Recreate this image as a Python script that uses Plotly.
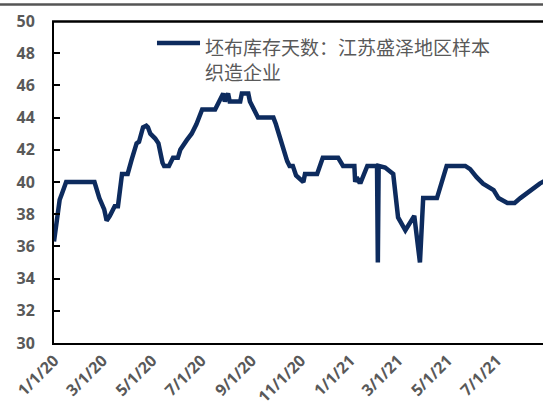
import plotly.graph_objects as go

dates = [
    "2020-01-01", "2020-01-05", "2020-01-08", "2020-01-11", "2020-01-16",
    "2020-02-20", "2020-02-26", "2020-03-03", "2020-03-06", "2020-03-10",
    "2020-03-16", "2020-03-20", "2020-03-25", "2020-04-01", "2020-04-03",
    "2020-04-06", "2020-04-12", "2020-04-15", "2020-04-20", "2020-04-24",
    "2020-04-26", "2020-04-29", "2020-05-05", "2020-05-09", "2020-05-14",
    "2020-05-16", "2020-05-22", "2020-05-27", "2020-06-02", "2020-06-05",
    "2020-06-13", "2020-06-19", "2020-06-25", "2020-07-02", "2020-07-18",
    "2020-07-22", "2020-07-28", "2020-07-30", "2020-08-03", "2020-08-05",
    "2020-08-18", "2020-08-20", "2020-08-28", "2020-08-30", "2020-09-03",
    "2020-09-09", "2020-09-28", "2020-10-01", "2020-10-15", "2020-10-18",
    "2020-10-22", "2020-10-26", "2020-11-04", "2020-11-06", "2020-11-21",
    "2020-11-28", "2020-12-17", "2020-12-23", "2021-01-06", "2021-01-07",
    "2021-01-09", "2021-01-12", "2021-01-14", "2021-01-22", "2021-02-03",
    "2021-02-04", "2021-02-05", "2021-02-13", "2021-02-23", "2021-03-01",
    "2021-03-10", "2021-03-16", "2021-03-21", "2021-03-28", "2021-04-01",
    "2021-04-18", "2021-04-30", "2021-05-23", "2021-05-29", "2021-06-06",
    "2021-06-14", "2021-06-27", "2021-07-03", "2021-07-14", "2021-07-23",
    "2021-07-30", "2021-08-09", "2021-08-23", "2021-08-30",
]
days = [
    36.3, 38.0, 38.9, 39.3, 40.0,
    40.0, 39.0, 38.3, 37.6, 37.9,
    38.5, 38.5, 40.5, 40.5, 41.0,
    41.4, 42.4, 42.5, 43.4, 43.5,
    43.4, 43.0, 42.7, 42.4, 41.2,
    41.0, 41.0, 41.5, 41.5, 42.0,
    42.6, 43.0, 43.6, 44.5, 44.5,
    44.9, 45.5, 45.0, 45.5, 45.0,
    45.0, 45.5, 45.5, 45.0, 44.6,
    44.0, 44.0, 43.6, 41.3, 41.0,
    41.0, 40.4, 40.0, 40.5, 40.5,
    41.5, 41.5, 41.0, 41.0, 40.0,
    40.3, 40.0, 40.0, 41.0, 41.0,
    35.0, 41.0, 40.9, 40.5, 37.8,
    37.0, 37.5, 37.9, 35.0, 39.0,
    39.0, 41.0, 41.0, 40.8, 40.3,
    39.9, 39.5, 39.0, 38.7, 38.7,
    39.0, 39.4, 39.9, 40.1,
]

tick_dates = ["2020-01-01", "2020-03-01", "2020-05-01", "2020-07-01", "2020-09-01",
              "2020-11-01", "2021-01-01", "2021-03-01", "2021-05-01", "2021-07-01"]
tick_labels = ["1/1/20", "3/1/20", "5/1/20", "7/1/20", "9/1/20",
               "11/1/20", "1/1/21", "3/1/21", "5/1/21", "7/1/21"]
y_ticks = [30, 32, 34, 36, 38, 40, 42, 44, 46, 48, 50]
series_name = "坯布库存天数：江苏盛泽地区样本<br>织造企业"
x_range = ["2020-01-01", "2021-08-27"]
line_color = "#0d2b5e"

fig = go.Figure()
fig.add_trace(go.Scatter(
    x=dates, y=days, mode="lines", name=series_name,
    line=dict(color=line_color, width=4.5),
))

tick_font = dict(family="Open Sans", size=16, color="#595959", weight="bold")

fig.update_layout(
    width=543, height=410,
    margin=dict(l=54, r=0, t=21, b=67, autoexpand=False),
    paper_bgcolor="white", plot_bgcolor="white",
    showlegend=False,
    xaxis=dict(
        type="date", range=x_range,
        tickvals=tick_dates, ticktext=tick_labels,
        tickangle=-45, tickfont=tick_font,
        showgrid=False, zeroline=False,
        showline=True, linecolor="black", linewidth=2,
        ticks="",
    ),
    yaxis=dict(
        range=[30, 50], tickvals=y_ticks,
        tickfont=tick_font,
        showgrid=False, zeroline=False,
        showline=True, linecolor="black", linewidth=2,
        ticks="inside", ticklen=6, tickwidth=1.5, tickcolor="black",
        ticklabelstandoff=14,
    ),
    annotations=[dict(
        text=series_name, xref="paper", yref="paper",
        x=0.3047, y=0.969, xanchor="left", yanchor="top",
        align="left", showarrow=False,
        font=dict(family="Noto Sans CJK SC", size=19, color="#595959"),
    )],
    shapes=[
        # outer frame line above the chart
        dict(type="line", xref="paper", yref="paper", layer="above",
             x0=-0.12, x1=1.0, y0=1.0512, y1=1.0512,
             line=dict(color="#555555", width=2.5)),
        # top border of the plot area
        dict(type="line", xref="paper", yref="paper", layer="above",
             x0=-0.004, x1=1.0, y0=0.9985, y1=0.9985,
             line=dict(color="#000000", width=2.5)),
        # legend key sample
        dict(type="line", xref="paper", yref="paper", layer="above",
             x0=0.2106, x1=0.2986, y0=0.9317, y1=0.9317,
             line=dict(color=line_color, width=4.5)),
    ],
)

fig.write_html(
    "out.html",
    config={"displayModeBar": False},
    post_script="document.body.style.margin='0';document.body.style.overflow='hidden';",
)
